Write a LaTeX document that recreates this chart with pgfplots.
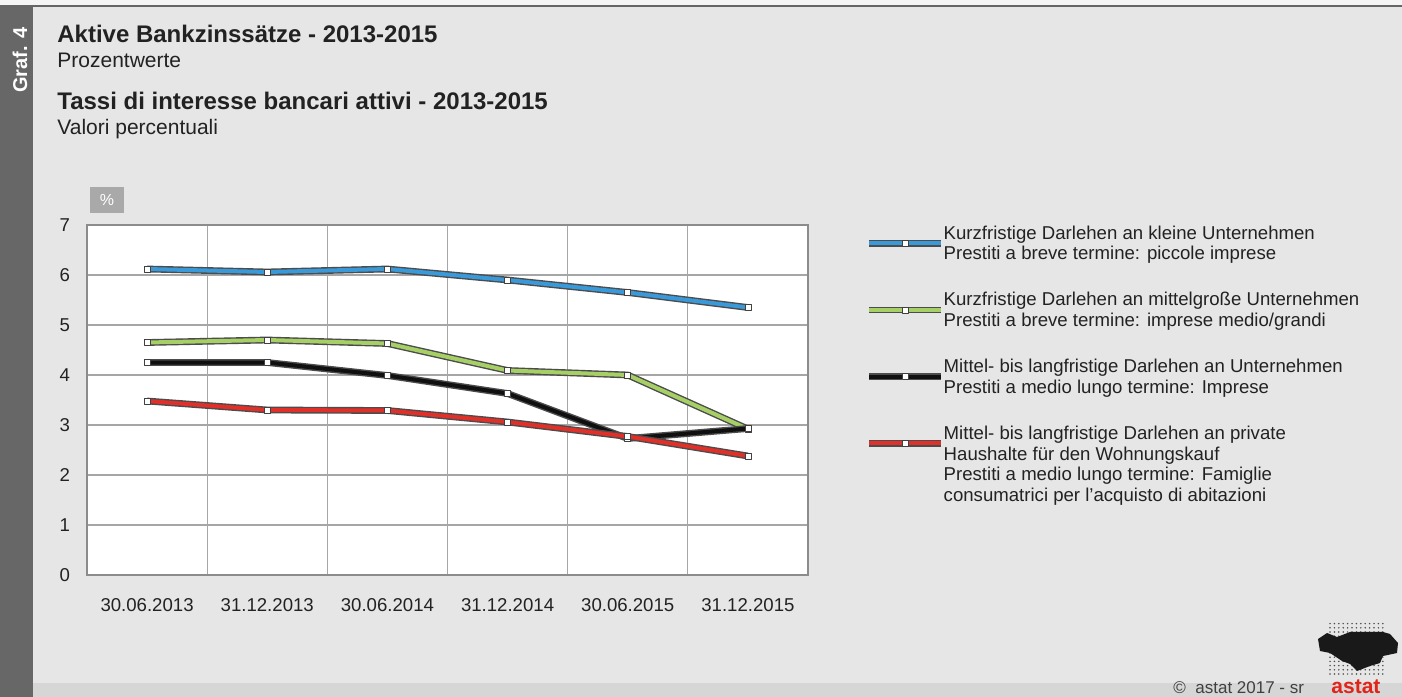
\documentclass[border=0pt]{standalone}
\usepackage{fontspec}
\setmainfont{Liberation Sans}
\usepackage{pgfplots}
\usepackage{pgfplotstable}
\pgfplotsset{compat=1.18}
\definecolor{bgc}{HTML}{E6E6E6}
\definecolor{stripc}{HTML}{676767}
\definecolor{cblue}{HTML}{3A9AD9}
\definecolor{cgreen}{HTML}{A6D066}
\definecolor{cblack}{HTML}{101010}
\definecolor{cred}{HTML}{E0302A}
\definecolor{txt}{HTML}{222222}
\definecolor{gridc}{HTML}{A6A6A6}
\definecolor{pctbox}{HTML}{A9A9A9}
\definecolor{astatred}{HTML}{E2231A}
\pgfplotstableread{
x blue green black red
0.5 6.12 4.65 4.25 3.48
1.5 6.06 4.70 4.25 3.30
2.5 6.12 4.63 3.99 3.29
3.5 5.90 4.09 3.63 3.06
4.5 5.65 4.00 2.73 2.77
5.5 5.35 2.92 2.93 2.38
}\datatab
\pgfplotsset{
  outl/.style={line width=3.4bp, draw=black!70, mark=none, forget plot, line join=round},
  ser/.style={line width=2bp, draw=#1, line join=round, mark=square*, mark size=1.5bp,
    mark options={fill=white, draw=black!75, line width=0.4bp}},
}
\begin{document}
\begin{tikzpicture}
\fill[bgc] (0,0) rectangle (701bp,348.5bp);
\useasboundingbox (0,0) rectangle (701bp,348.5bp);
\fill[black!4] (0,346.2bp) rectangle (701bp,348.5bp);
\fill[black!60] (0,345bp) rectangle (701bp,346.2bp);
\fill[stripc] (0,0) rectangle (16.5bp,345bp);
\fill[black!16] (16.5bp,0) rectangle (701bp,7bp);
\node[rotate=90, text=white, font=\bfseries\fontsize{10bp}{12bp}\selectfont, inner sep=0] at (10bp,318.5bp) {Graf. 4};

\begin{axis}[
  at={(43.5bp,61bp)}, anchor=south west,
  scale only axis, width=360.5bp, height=175bp,
  xmin=0, xmax=6, ymin=0, ymax=7,
  xtick={0.5,1.5,2.5,3.5,4.5,5.5},
  xticklabels={30.06.2013,31.12.2013,30.06.2014,31.12.2014,30.06.2015,31.12.2015},
  minor xtick={1,2,3,4,5},
  ytick={0,1,2,3,4,5,6,7},
  xminorgrids, ymajorgrids,
  major tick length=0pt, minor tick length=0pt,
  grid style={draw=gridc, line width=0.6bp},
  minor grid style={draw=gridc, line width=0.6bp},
  axis line style={draw=black!45, line width=0.7bp},
  axis background/.style={fill=white},
  tick label style={font=\fontsize{9.3bp}{11bp}\selectfont, text=txt},
  /pgf/number format/assume math mode=true,
  xticklabel style={yshift=-8bp},
  yticklabel style={xshift=-5bp},
  clip=false,
  legend style={at={(1.0804,1.012)}, anchor=north west, draw=none, fill=none,
    inner sep=0pt, outer sep=0pt, row sep=20.4bp, column sep=-2.5bp,
    font=\fontsize{9.3bp}{10.35bp}\selectfont, text=txt,
    cells={anchor=base west, inner sep=0pt}},
  legend image code/.code={
    \draw[line width=3.4bp, draw=black!70] (0bp,-2bp) -- (36bp,-2bp);
    \draw[mark repeat=2, mark phase=2, #1] plot coordinates {(0bp,-2bp) (18bp,-2bp) (36bp,-2bp)};
  },
]
\addplot[outl] table[x=x,y=blue]{\datatab};
\addplot[ser=cblue] table[x=x,y=blue]{\datatab};
\addlegendentry{\parbox[t]{240bp}{\strut Kurzfristige Darlehen an kleine Unternehmen\\Prestiti a breve termine: piccole imprese\strut}}
\addplot[outl] table[x=x,y=green]{\datatab};
\addplot[ser=cgreen] table[x=x,y=green]{\datatab};
\addlegendentry{\parbox[t]{240bp}{\strut Kurzfristige Darlehen an mittelgroße Unternehmen\\Prestiti a breve termine: imprese medio/grandi\strut}}
\addplot[outl] table[x=x,y=black]{\datatab};
\addplot[ser=cblack] table[x=x,y=black]{\datatab};
\addlegendentry{\parbox[t]{240bp}{\strut Mittel- bis langfristige Darlehen an Unternehmen\\Prestiti a medio lungo termine: Imprese\strut}}
\addplot[outl] table[x=x,y=red]{\datatab};
\addplot[ser=cred] table[x=x,y=red]{\datatab};
\addlegendentry{\parbox[t]{240bp}{\strut Mittel- bis langfristige Darlehen an private\\Haushalte für den Wohnungskauf\\Prestiti a medio lungo termine: Famiglie\\consumatrici per l’acquisto di abitazioni\strut}}
\end{axis}

\node[anchor=base west, inner sep=0, text=txt, font=\bfseries\fontsize{12bp}{14bp}\selectfont] at (28.5bp,327.15bp) {Aktive Bankzinssätze - 2013-2015};
\node[anchor=base west, inner sep=0, text=txt, font=\fontsize{10.5bp}{12bp}\selectfont] at (28.5bp,314.65bp) {Prozentwerte};
\node[anchor=base west, inner sep=0, text=txt, font=\bfseries\fontsize{12bp}{14bp}\selectfont] at (28.5bp,293.85bp) {Tassi di interesse bancari attivi - 2013-2015};
\node[anchor=base west, inner sep=0, text=txt, font=\fontsize{10.5bp}{12bp}\selectfont] at (28.5bp,281bp) {Valori percentuali};
\node[fill=pctbox, minimum width=17bp, minimum height=13bp, inner sep=0, text=white, font=\fontsize{8bp}{9bp}\selectfont] at (53.5bp,248.5bp) {\%};

% logo
\foreach \i in {0,...,12} {
  \foreach \j in {0,...,12} {
    \fill[black!70] ({665bp+\i*2.2bp},{11.5bp+\j*2.1bp}) circle (0.42bp);
  }
}
\fill[black!90] (659bp,29bp) -- (663.5bp,32bp) -- (668.5bp,30bp) -- (675bp,32.5bp) -- (691.5bp,32.5bp) -- (695bp,31.5bp) -- (699bp,27bp) -- (698.5bp,22bp) -- (691.5bp,20.5bp) -- (690bp,17bp) -- (685bp,15.5bp) -- (678.5bp,13bp) -- (675bp,16.5bp) -- (671bp,18bp) -- (665bp,22bp) -- (660bp,23bp) -- cycle;
\node[anchor=base west, inner sep=0, text=black!75, font=\fontsize{8.5bp}{10bp}\selectfont] at (586.5bp,1.6bp) {©\ \ astat 2017 - sr};
\node[anchor=base west, inner sep=0, text=astatred, font=\bfseries\fontsize{10.5bp}{12bp}\selectfont] at (665.5bp,1.6bp) {astat};
\end{tikzpicture}
\end{document}
